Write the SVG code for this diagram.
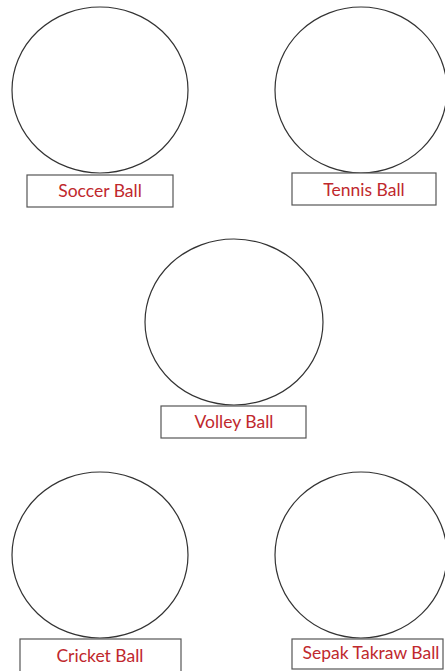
<svg xmlns="http://www.w3.org/2000/svg" width="445" height="671" viewBox="0 0 445 671">
<style>
.ball{fill:none;stroke:#333;stroke-width:1.2}
.box{fill:#fff;stroke:#555;stroke-width:1.2}
.lbl{font-family:Lato,"Open Sans","Liberation Sans",sans-serif;font-size:17.5px;fill:#c0282d;text-anchor:middle}
</style>
<rect width="445" height="671" fill="#fff"/>
<g id="soccer">
<ellipse class="ball" cx="100" cy="90" rx="88" ry="83"/>
<rect class="box" x="27" y="175" width="146" height="32"/>
<text class="lbl" x="100" y="197">Soccer Ball</text>
</g>
<g id="tennis">
<ellipse class="ball" cx="361" cy="90" rx="86" ry="83"/>
<rect class="box" x="292" y="173" width="144" height="32"/>
<text class="lbl" x="364" y="196">Tennis Ball</text>
</g>
<g id="volley">
<ellipse class="ball" cx="234" cy="322" rx="89" ry="83"/>
<rect class="box" x="161" y="406" width="145" height="32"/>
<text class="lbl" x="234" y="428">Volley Ball</text>
</g>
<g id="cricket">
<ellipse class="ball" cx="100" cy="555" rx="88" ry="83"/>
<rect class="box" x="20" y="639" width="161" height="34"/>
<text class="lbl" x="100" y="662">Cricket Ball</text>
</g>
<g id="sepak">
<ellipse class="ball" cx="361" cy="555" rx="86" ry="83"/>
<rect class="box" x="292" y="639" width="151" height="30"/>
<text class="lbl" x="371" y="659">Sepak Takraw Ball</text>
</g>
<g id="connectors"></g>
</svg>
